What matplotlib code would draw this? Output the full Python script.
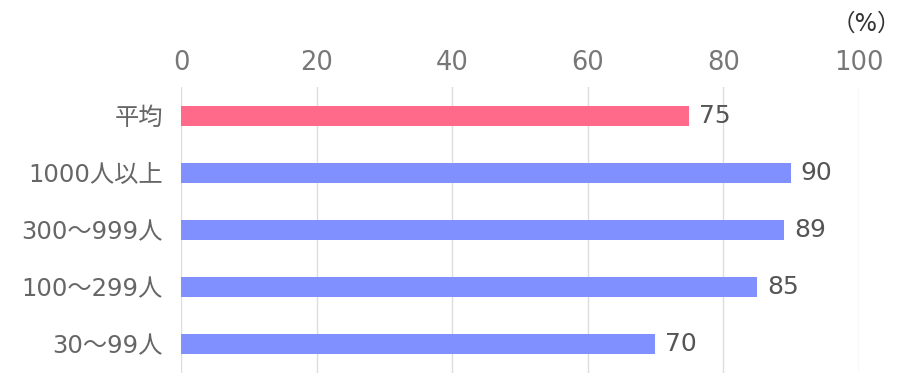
import matplotlib
matplotlib.use('Agg')
import matplotlib.pyplot as plt

categories = ['平均', '1000人以上', '300～999人', '100～299人', '30～99人']
values = [75, 90, 89, 85, 70]
colors = ['#ff6a8b', '#8090fe', '#8090fe', '#8090fe', '#8090fe']
ticks = [0, 20, 40, 60, 80, 100]

plt.rcParams['font.family'] = ['DejaVu Sans', 'Noto Sans CJK JP']

fig = plt.figure(figsize=(9.05, 3.9), dpi=100)
ax = fig.add_axes([0.2, 0.044, 0.749, 0.733])

pos = list(range(len(categories)))
ax.barh(pos, values, height=0.35, color=colors, zorder=2)
for p, v in zip(pos, values):
    ax.annotate(str(v), (v, p), xytext=(7, 0), textcoords='offset points',
                va='center', ha='left', fontsize=18, color='#555555')

ax.set_xlim(0, 100)
ax.set_ylim(len(categories) - 0.5, -0.5)
ax.set_xticks(ticks)
ax.set_yticks(pos)
ax.set_yticklabels(categories)
ax.xaxis.tick_top()
ax.tick_params(axis='x', length=0, pad=8, labelsize=18.5, labelcolor='#777777')
ax.tick_params(axis='y', length=0, pad=13, labelsize=17.5, labelcolor='#666666')
ax.grid(axis='x', color='#dddddd', linewidth=1, zorder=0)
for s in ax.spines.values():
    s.set_visible(False)

fig.text(0.957, 0.94, '（%）', ha='center', va='center', fontsize=17, color='#333333')

fig.savefig('out.png', dpi=100)
